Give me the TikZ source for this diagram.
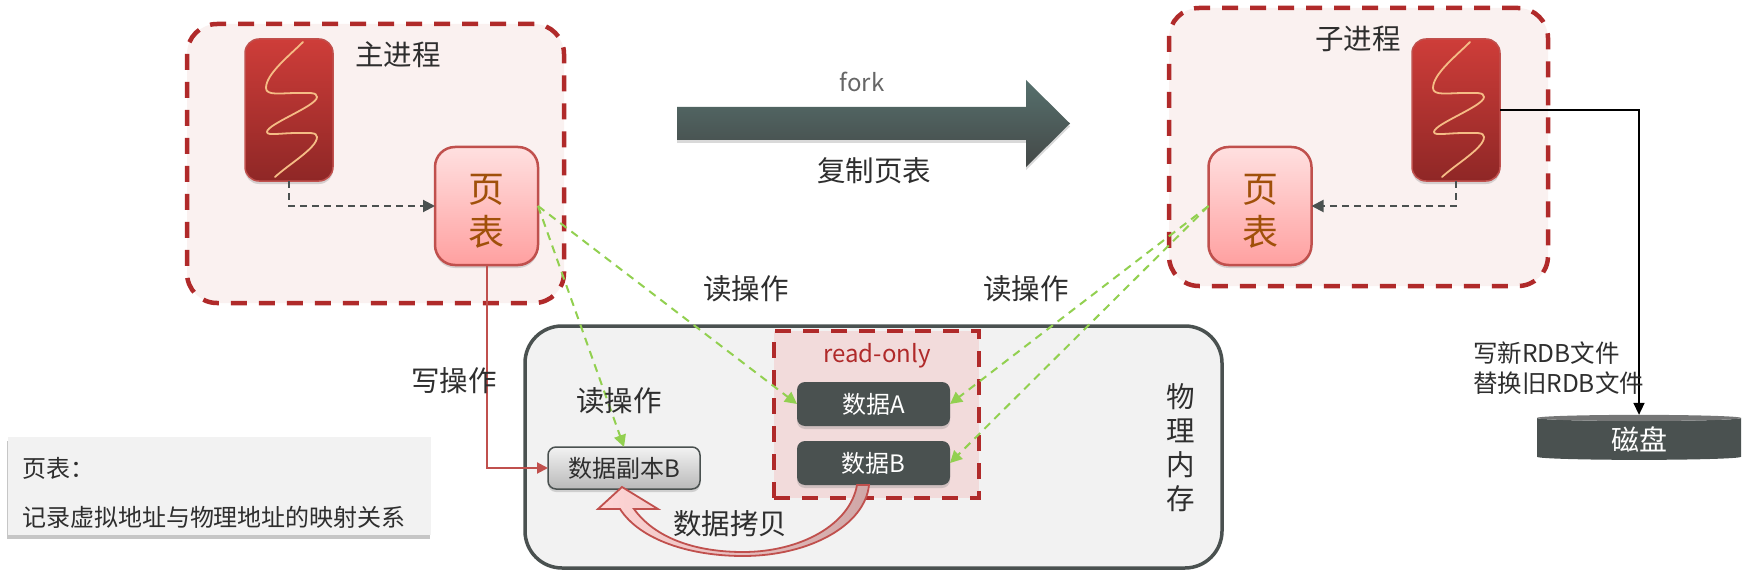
\documentclass[tikz,border=0pt]{standalone}
\usepackage{fontspec}
\setmainfont{Noto Sans CJK SC}
\usetikzlibrary{positioning,arrows.meta,shadows,shapes.geometric}
\definecolor{darkslate}{HTML}{4A5150}
\definecolor{deepred}{HTML}{B02A2A}
\definecolor{softred}{HTML}{C0504D}
\definecolor{leafgreen}{HTML}{92D050}
\definecolor{inktext}{HTML}{2E2E2E}
\definecolor{ptext}{HTML}{A0500A}
\definecolor{procbg}{HTML}{FAF1F0}
\definecolor{thrtop}{HTML}{CE3D39}
\definecolor{thrbot}{HTML}{8F2726}
\definecolor{ptop}{HTML}{FFE0E0}
\definecolor{pbot}{HTML}{FFA0A0}
\definecolor{waveline}{HTML}{F5BC85}
\definecolor{memback}{HTML}{F2F2F2}
\definecolor{roback}{HTML}{F2DBDB}
\definecolor{forktop}{HTML}{56706D}
\definecolor{forkbot}{HTML}{444847}
\definecolor{copyleft}{HTML}{FFD6D6}
\definecolor{copyright}{HTML}{CFA7A7}
\tikzset{
  softshadow/.style = {drop shadow={shadow xshift=0pt, shadow yshift=-3pt, opacity=.3}},
  plain/.style = {inner sep=0pt, outer sep=0pt},
  lab/.style = {plain, font=\fontsize{28.5}{32}\selectfont, text=inktext},
  labsm/.style = {plain, font=\fontsize{24}{30}\selectfont, text=inktext},
  procbox/.style = {plain, draw=deepred, line width=4.5pt, dash pattern=on 16pt off 12pt,
                    fill=procbg, rounded corners=30pt},
  thr/.style = {plain, draw=softred, line width=1.5pt, rounded corners=14pt, softshadow,
                top color=thrtop, bottom color=thrbot,
                minimum width=88pt, minimum height=142pt},
  pagetab/.style = {plain, draw=softred, line width=2.5pt, rounded corners=20pt, softshadow,
                    top color=ptop, bottom color=pbot, text=ptext, align=center,
                    font=\fontsize{36}{43}\selectfont,
                    minimum width=103pt, minimum height=118pt},
  databox/.style = {plain, fill=darkslate, rounded corners=8pt, softshadow, text=white,
                    font=\fontsize{24}{30}\selectfont,
                    minimum width=153pt, minimum height=44pt},
  wave/.style = {draw=waveline, line width=1.8pt, line cap=round},
  arrdash/.style = {draw=darkslate, line width=2pt, dash pattern=on 7pt off 5pt,
                    -{Triangle[length=12pt,width=12pt]}},
  arrgreen/.style = {draw=leafgreen, line width=2pt, dash pattern=on 8pt off 6pt,
                     -{Triangle[length=12pt,width=12pt]}},
  arrred/.style = {draw=softred, line width=2pt, -{Triangle[length=11pt,width=11pt]}},
  arrblack/.style = {draw=black, line width=1.6pt, -{Triangle[length=12pt,width=11pt]}}
}
\newcommand{\threadwave}[1]{%
  \begin{scope}[shift={(#1.center)}]
    \path[wave] (14,-68) .. controls (0,-54) and (-23,-36) .. (-23,-22)
      .. controls (-23,-14) and (-8,-17) .. (8,-17)
      .. controls (20,-17) and (28,-18) .. (28,-13)
      .. controls (28,-4) and (-22,14) .. (-22,22)
      .. controls (-22,26) and (-8,23) .. (8,23)
      .. controls (20,23) and (28,22) .. (28,27)
      .. controls (28,38) and (0,54) .. (-14,67);
  \end{scope}}

\begin{document}
\begin{tikzpicture}[x=1pt,y=-1pt]
    \useasboundingbox (0,0) rectangle (1745,575);
    % Prozesse
    \node[procbox, minimum width=377pt, minimum height=279pt] (mainproc) at (375.5,163.5) {};
    \node[procbox, minimum width=379pt, minimum height=278pt] (childproc) at (1358.5,147) {};
    \node[lab] (mainname) at (398,55) {主进程};
    \node[lab] (childname) at (1358,39) {子进程};
    \node[thr] (mainthr) at (289,110) {};
    \node[thr] (childthr) at (1456,110) {};
    \threadwave{mainthr}
    \threadwave{childthr}
    \node[pagetab] (mainpt) at (486.5,206) {\rule{0pt}{39pt}页\\表};
    \node[pagetab] (childpt) at (1260,206) {\rule{0pt}{39pt}页\\表};
    % Speicher
    \node[plain, draw=darkslate, line width=3.5pt, fill=memback, rounded corners=37pt,
          minimum width=697pt, minimum height=242pt] (mem) at (873.5,447) {};
    \node[plain, draw=deepred, line width=4.5pt, dash pattern=on 16pt off 12pt, fill=roback,
          minimum width=205pt, minimum height=167pt] (ro) at (876.5,414.5) {};
    \node[labsm, text=deepred] (rolabel) at (877,356) {read-only};
    \node[databox] (dataA) at (873.5,404) {数据A};
    \node[databox, below=15pt of dataA] (dataB) {数据B};
    \node[labsm, plain, draw=darkslate, line width=1.5pt, rounded corners=8pt, softshadow,
          top color=gray!10, bottom color=gray!55,
          minimum width=152pt, minimum height=42pt] (copyb) at (624,468) {数据副本B};
    \node[lab, align=center, font=\fontsize{28.5}{34}\selectfont] (memname) at (1181,448) {物\\理\\内\\存};
    % fork Pfeil
    \path[top color=forktop, bottom color=forkbot, softshadow] (677,107) -- (1026,107) -- (1026,80)
      -- (1070,123.5) -- (1026,167) -- (1026,140) -- (677,140) -- cycle;
    \node[labsm, text=gray!80!black] (forkname) at (862,82) {fork};
    \node[lab] (copytab) at (874,171) {复制页表};
    % Verbindungen
    \draw[arrdash] (mainthr.south) |- (mainpt.west);
    \draw[arrdash] (childthr.south) |- (childpt.east);
    \draw[arrred] (mainpt.south) |- (copyb.west);
    \draw[arrgreen] (mainpt.east) -- (dataA.west);
    \draw[arrgreen] (mainpt.east) -- (copyb.north);
    \draw[arrgreen] (childpt.west) -- (dataA.east);
    \draw[arrgreen] (childpt.west) -- (dataB.east);
    \node[lab] (readl) at (746,289) {读操作};
    \node[lab] (readr) at (1026,289) {读操作};
    \node[lab] (readm) at (619,401) {读操作};
    \node[lab] (writel) at (454,381) {写操作};
    % Kopie
    \path[draw=softred, line width=1.8pt, left color=copyleft, right color=copyright]
      ([xshift=-4.5pt]dataB.south) .. controls (865,525) and (810,556) .. (743,556)
      .. controls (690,556) and (640,540) .. (620,509) -- (598,509)
      -- ([shift={(-2,-2)}]copyb.south) -- (658,509) -- (634,509)
      .. controls (655,538) and (695,552) .. (743,552)
      .. controls (800,552) and (850,525) .. ([xshift=-16.5pt]dataB.south) -- cycle;
    \node[lab] (copyname) at (730,524) {数据拷贝};
    % Platte
    \node[cylinder, shape border rotate=90, shape aspect=.11, cylinder uses custom fill,
          cylinder body fill=darkslate, cylinder end fill=gray!80!darkslate,
          minimum width=204pt, minimum height=45pt, inner sep=0pt, outer sep=0pt, text=white,
          font=\fontsize{28}{32}\selectfont] (disk) at (1639,439) {磁盘};
    \draw[arrblack] (childthr.east) -| (disk.north);
    \node[labsm, align=left, anchor=west, font=\fontsize{24.5}{30}\selectfont] (rdbnote) at (1473,368) {写新RDB文件\\替换旧RDB文件};
    % Legende
    \node[plain, fill=memback, drop shadow={shadow xshift=-1pt, shadow yshift=-4pt, opacity=.45},
          minimum width=423pt, minimum height=98pt] (legend) at (219.5,486) {};
    \node[labsm, anchor=west] (legtitle) at (23,468) {页表：};
    \node[labsm, anchor=west] (legtext) at (22,517) {记录虚拟地址与物理地址的映射关系};
  \end{tikzpicture}
\end{document}
